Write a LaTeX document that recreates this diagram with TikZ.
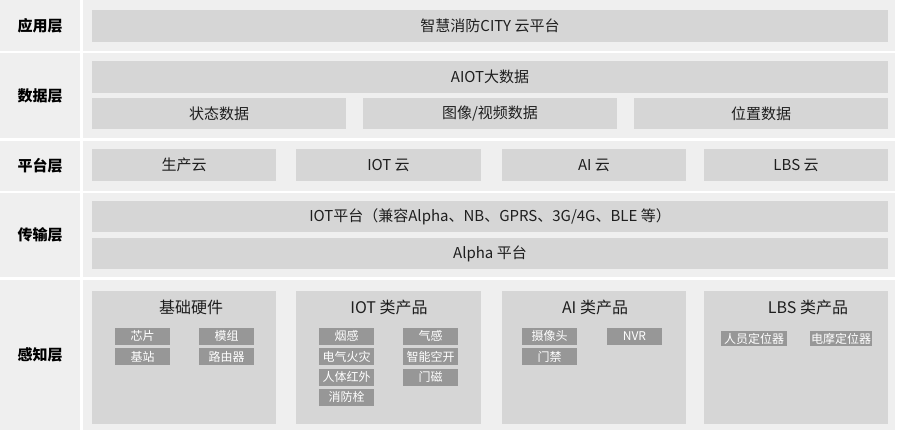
\documentclass[tikz,border=0pt]{standalone}
\usepackage{fontspec}
\setmainfont{Noto Sans CJK SC}
\definecolor{CellGrey}{HTML}{EFEFEF}
\definecolor{BarGrey}{HTML}{D6D6D6}
\definecolor{ItemGrey}{HTML}{979797}
\definecolor{TextDark}{HTML}{1E1E1E}
\usepackage{tikz}
\usetikzlibrary{positioning}

\begin{document}
\begin{tikzpicture}[
    x=1pt, y=-1pt,
    cell/.style={rectangle, fill=CellGrey, inner sep=0pt},
    layer/.style={font=\bfseries\fontsize{15}{17}\selectfont, text=black},
    bar/.style={rectangle, fill=BarGrey, inner sep=0pt, text=TextDark, font=\fontsize{15}{17}\selectfont},
    group/.style={rectangle, fill=BarGrey, inner sep=0pt, minimum height=133pt},
    grouptitle/.style={text=TextDark, font=\fontsize{16}{18}\selectfont},
    item/.style={rectangle, fill=ItemGrey, text=white, inner sep=0pt, minimum width=55pt, minimum height=17pt, font=\fontsize{12}{13}\selectfont},
]
    \fill[white] (0,0) rectangle (900,433);
    \useasboundingbox (0,0) rectangle (900,433);

    % layer cells
    \node[cell, minimum width=80pt, minimum height=51pt] (appcell) at (40,25.5) {};
    \node[cell, minimum width=80pt, minimum height=85pt] (datacell) at (40,95.5) {};
    \node[cell, minimum width=80pt, minimum height=50pt] (platcell) at (40,166) {};
    \node[cell, minimum width=80pt, minimum height=84pt] (transcell) at (40,235) {};
    \node[cell, minimum width=80pt, minimum height=150pt] (sensecell) at (40,355) {};
    \node[cell, minimum width=812pt, minimum height=51pt] (apppanel) at (489,25.5) {};
    \node[cell, minimum width=812pt, minimum height=85pt] (datapanel) at (489,95.5) {};
    \node[cell, minimum width=812pt, minimum height=50pt] (platpanel) at (489,166) {};
    \node[cell, minimum width=812pt, minimum height=84pt] (transpanel) at (489,235) {};
    \node[cell, minimum width=812pt, minimum height=150pt] (sensepanel) at (489,355) {};

    \node[layer] (applabel) at (appcell) {应用层};
    \node[layer] (datalabel) at (datacell) {数据层};
    \node[layer] (platlabel) at (platcell) {平台层};
    \node[layer] (translabel) at (transcell) {传输层};
    \node[layer] (senselabel) at (sensecell) {感知层};

    % application layer
    \node[bar, minimum width=796pt, minimum height=32pt] (cloud) at (490,26) {智慧消防CITY 云平台};

    % data layer
    \node[bar, minimum width=796pt, minimum height=32pt] (aiot) at (490,77) {AIOT大数据};
    \node[bar, minimum width=254pt, minimum height=31pt] (state) at (219,113.5) {状态数据};
    \node[bar, minimum width=254pt, minimum height=31pt] (video) at (490,113.5) {图像/视频数据};
    \node[bar, minimum width=254pt, minimum height=31pt] (position) at (761,113.5) {位置数据};

    % platform layer
    \node[bar, minimum width=184pt, minimum height=32pt] (prodcloud) at (184,165) {生产云};
    \node[bar, minimum width=185pt, minimum height=32pt] (iotcloud) at (388.5,165) {IOT 云};
    \node[bar, minimum width=184pt, minimum height=32pt] (aicloud) at (594,165) {AI 云};
    \node[bar, minimum width=184pt, minimum height=32pt] (lbscloud) at (796,165) {LBS 云};

    % transport layer
    \node[bar, minimum width=796pt, minimum height=31pt] (iotplat) at (490,216.5) {IOT平台（兼容Alpha、NB、GPRS、3G/4G、BLE 等）};
    \node[bar, minimum width=796pt, minimum height=31pt] (alphaplat) at (490,253.5) {Alpha 平台};

    % sensing layer
    \node[group, minimum width=184pt] (hardware) at (184,357.5) {};
    \node[group, minimum width=185pt] (iotprod) at (388.5,357.5) {};
    \node[group, minimum width=184pt] (aiprod) at (594,357.5) {};
    \node[group, minimum width=184pt] (lbsprod) at (796,357.5) {};

    \node[grouptitle] (hwtitle) at (191,307) {基础硬件};
    \node[grouptitle] (iottitle) at (389,307) {IOT 类产品};
    \node[grouptitle] (aititle) at (595,307) {AI 类产品};
    \node[grouptitle] (lbstitle) at (808,307) {LBS 类产品};

    \node[item] (chip) at (142.5,336) {芯片};
    \node[item] (module) at (226.5,336) {模组};
    \node[item] (station) at (142.5,356.5) {基站};
    \node[item] (router) at (226.5,356.5) {路由器};

    \node[item] (smoke) at (346.5,336) {烟感};
    \node[item] (gas) at (430.5,336) {气感};
    \node[item] (elecfire) at (346.5,356.5) {电气火灾};
    \node[item] (breaker) at (430.5,356.5) {智能空开};
    \node[item] (infrared) at (346.5,377) {人体红外};
    \node[item] (doormag) at (430.5,377) {门磁};
    \node[item] (hydrant) at (346.5,397) {消防栓};

    \node[item] (camera) at (549.5,336) {摄像头};
    \node[item] (nvr) at (634.5,336) {NVR};
    \node[item] (access) at (549.5,356.5) {门禁};

    \node[item, minimum width=66pt, minimum height=15pt] (persontag) at (754,338.5) {人员定位器};
    \node[item, minimum width=62pt, minimum height=15pt] (biketag) at (841,338.5) {电摩定位器};
\end{tikzpicture}
\end{document}
